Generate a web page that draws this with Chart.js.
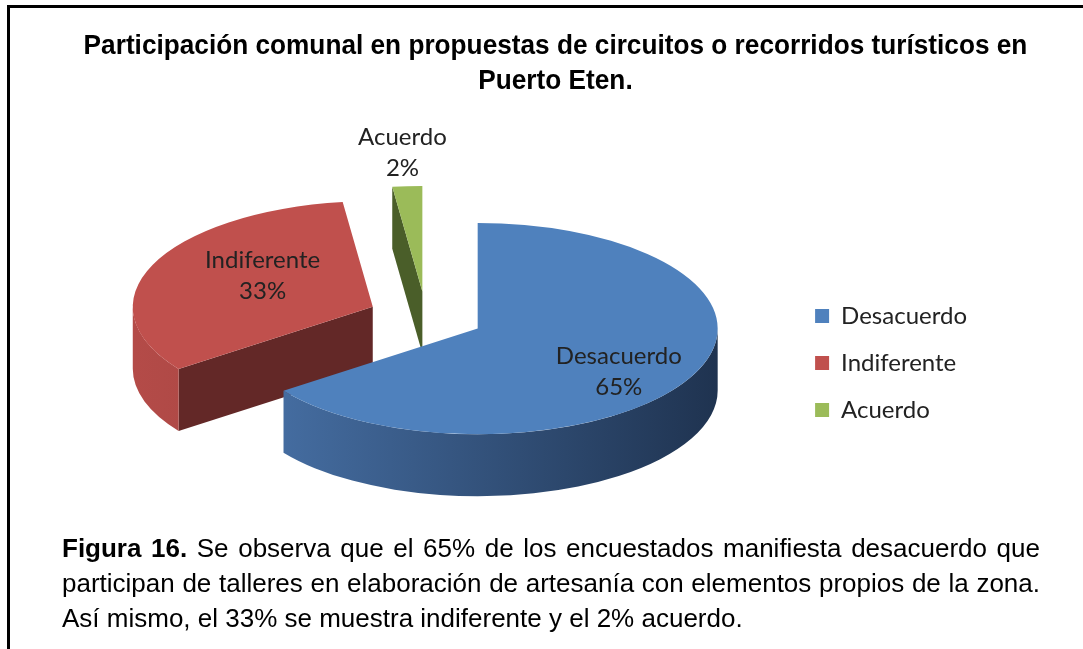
<!DOCTYPE html>
<html>
<head>
<meta charset="utf-8">
<script src="https://cdn.jsdelivr.net/npm/chart.js@4.4.0/dist/chart.umd.min.js"></script>
<style>
  html, body { margin: 0; padding: 0; background: #fff; }
  #wrap { position: relative; width: 1083px; height: 649px; overflow: hidden; }
  #frame { position: absolute; left: 7px; top: 5px; width: 1200px; height: 800px;
           border-left: 3px solid #000; border-top: 3px solid #000; }
  #chart { position: absolute; left: 0; top: 0; }
  #title { position: absolute; left: 28px; top: 27px; width: 1055px; text-align: center;
           font-family: "Liberation Sans", Arial, sans-serif;
           font-weight: bold; font-size: 28px; line-height: 35px; color: #000;
           transform: scaleX(0.936); transform-origin: 50% 0; }
  #caption { position: absolute; left: 62px; top: 531px; width: 978px;
             font-family: "Liberation Sans", Arial, sans-serif; font-size: 26px;
             line-height: 35px; color: #000; }
  #caption div { white-space: nowrap; }
  #caption .full { text-align: justify; text-align-last: justify; }
</style>
</head>
<body>
<div id="wrap">
  <div id="frame"></div>
  <canvas id="chart" width="1083" height="649"></canvas>
  <div id="title"></div>
  <div id="caption">
    <div class="full"><b>Figura 16.</b> Se observa que el 65% de los encuestados manifiesta desacuerdo que</div>
    <div class="full">participan de talleres en elaboración de artesanía con elementos propios de la zona.</div>
    <div>Así mismo, el 33% se muestra indiferente y el 2% acuerdo.</div>
  </div>
</div>
<script>
var categories = ['Desacuerdo', 'Indiferente', 'Acuerdo'];
var percentages = [65, 33, 2];
var topColors = ['#4f81bd', '#c0504d', '#9bbb59'];
var titleLines = ['Participación comunal en propuestas de circuitos o recorridos turísticos en', 'Puerto Eten.'];

// Colours for the sides of each slice (flat cut face, and rim light -> dark).
var cutColors = ['#2c4a70', '#632827', '#4a5e29'];
var rimColors = [['#4872a8', '#1f3350'], ['#b44b48', '#8a3a37'], ['#7d9a45', '#4a5e29']];

document.getElementById('title').innerHTML = titleLines.join('<br>');

// Draws the pie as a tilted, exploded 3D pie. Chart.js computes the angles and
// radius; the top faces are drawn by Chart.js itself under a squashing transform.
var pie3d = {
  id: 'pie3d',
  beforeDatasetsDraw: function (chart, args, opts) {
    var meta = chart.getDatasetMeta(0);
    var area = chart.chartArea;
    var cx0 = (area.left + area.right) / 2;
    var cy0 = (area.top + area.bottom) / 2;
    var ctx = chart.ctx;

    meta.data.forEach(function (arc) {
      var mid = (arc.startAngle + arc.endAngle) / 2;
      arc.x = cx0 + opts.explode * Math.cos(mid);
      arc.y = cy0 + opts.explode * Math.sin(mid);
    });

    function toScreen(x, y) {
      return [opts.cx + (x - cx0), opts.cy + opts.tilt * (y - cy0)];
    }

    // back slices first
    var order = meta.data.map(function (arc, i) { return i; });
    order.sort(function (a, b) {
      var ma = (meta.data[a].startAngle + meta.data[a].endAngle) / 2;
      var mb = (meta.data[b].startAngle + meta.data[b].endAngle) / 2;
      return Math.sin(ma) - Math.sin(mb);
    });

    order.forEach(function (i) {
      var arc = meta.data[i];
      var r = arc.outerRadius;
      var v = toScreen(arc.x, arc.y);
      var d = opts.depth;

      // flat cut faces
      [[arc.startAngle, Math.cos(arc.startAngle) < -1e-6], [arc.endAngle, Math.cos(arc.endAngle) > 1e-6]].forEach(function (edge) {
        if (!edge[1]) return;
        var p = toScreen(arc.x + r * Math.cos(edge[0]), arc.y + r * Math.sin(edge[0]));
        ctx.beginPath();
        ctx.moveTo(v[0], v[1]);
        ctx.lineTo(p[0], p[1]);
        ctx.lineTo(p[0], p[1] + d);
        ctx.lineTo(v[0], v[1] + d);
        ctx.closePath();
        ctx.fillStyle = cutColors[i];
        ctx.fill();
      });

      // curved rim on the front half
      [[-2 * Math.PI, -Math.PI], [0, Math.PI], [2 * Math.PI, 3 * Math.PI]].forEach(function (range) {
        var s = Math.max(arc.startAngle, range[0]);
        var e = Math.min(arc.endAngle, range[1]);
        if (e <= s) return;
        var grad = ctx.createLinearGradient(v[0] - r, 0, v[0] + r, 0);
        grad.addColorStop(0, rimColors[i][0]);
        grad.addColorStop(1, rimColors[i][1]);
        ctx.beginPath();
        ctx.ellipse(v[0], v[1], r, r * opts.tilt, 0, s, e, false);
        ctx.ellipse(v[0], v[1] + d, r, r * opts.tilt, 0, e, s, true);
        ctx.closePath();
        ctx.fillStyle = grad;
        ctx.fill();
      });
    });
  },
  beforeDatasetDraw: function (chart, args, opts) {
    var area = chart.chartArea;
    var cx0 = (area.left + area.right) / 2;
    var cy0 = (area.top + area.bottom) / 2;
    var ctx = chart.ctx;
    ctx.save();
    ctx.translate(opts.cx, opts.cy);
    ctx.scale(1, opts.tilt);
    ctx.translate(-cx0, -cy0);
  },
  afterDatasetDraw: function (chart) {
    chart.ctx.restore();
  },
  afterDatasetsDraw: function (chart, args, opts) {
    var meta = chart.getDatasetMeta(0);
    var area = chart.chartArea;
    var cx0 = (area.left + area.right) / 2;
    var cy0 = (area.top + area.bottom) / 2;
    var ctx = chart.ctx;
    ctx.save();
    ctx.font = opts.labelFont;
    ctx.fillStyle = '#222';
    ctx.textAlign = 'center';
    ctx.textBaseline = 'middle';
    meta.data.forEach(function (arc, i) {
      var mid = (arc.startAngle + arc.endAngle) / 2;
      var rho = arc.outerRadius * opts.labelRadius[i];
      var x = opts.cx + (arc.x + rho * Math.cos(mid) - cx0);
      var y = opts.cy + opts.tilt * (arc.y + rho * Math.sin(mid) - cy0) + opts.labelShiftY[i];
      ctx.fillText(categories[i], x, y - opts.labelGap / 2);
      ctx.fillText(percentages[i] + '%', x, y + opts.labelGap / 2);
    });
    ctx.restore();
  }
};

new Chart(document.getElementById('chart'), {
  type: 'pie',
  data: {
    labels: categories,
    datasets: [{
      data: percentages,
      backgroundColor: topColors,
      borderWidth: 0,
      radius: 240
    }]
  },
  plugins: [pie3d],
  options: {
    responsive: false,
    animation: false,
    events: [],
    layout: { padding: { left: 28, right: 106, top: 77, bottom: 0 } },
    plugins: {
      title: { display: false },
      legend: {
        position: 'right',
        labels: {
          boxWidth: 14,
          boxHeight: 14,
          padding: 23,
          color: '#222',
          font: { family: 'Lato, "Open Sans", sans-serif', size: 24 }
        }
      },
      tooltip: { enabled: false },
      pie3d: {
        cx: 426, cy: 317, tilt: 0.44, depth: 62, explode: 58,
        labelRadius: [0.66, 0.5, 1.32],
        labelShiftY: [12, -10, 0],
        labelGap: 31,
        labelFont: '24px Lato, "Open Sans", sans-serif'
      }
    }
  }
});
</script>
</body>
</html>
